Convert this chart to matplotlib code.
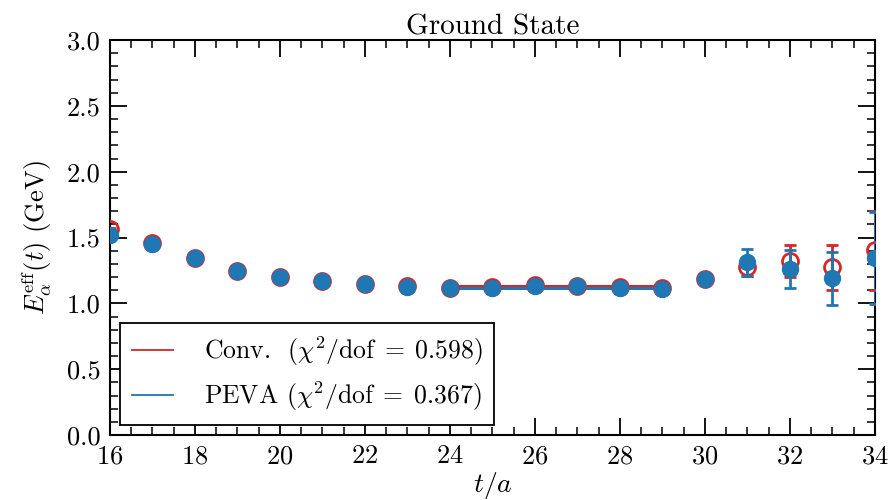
import numpy as np
import matplotlib
matplotlib.use("Agg")
import matplotlib.pyplot as plt
from matplotlib.ticker import MultipleLocator

plt.rcParams["font.family"] = "serif"
plt.rcParams["font.serif"] = ["cmr10", "DejaVu Serif"]
plt.rcParams["mathtext.fontset"] = "cm"
plt.rcParams["axes.formatter.use_mathtext"] = True
plt.rcParams["axes.unicode_minus"] = False

# effective energy data
t = [16, 17, 18, 19, 20, 21, 22, 23, 24, 25, 26, 27, 28, 29, 30, 31, 32, 33, 34]
conv_E = [1.565, 1.455, 1.345, 1.245, 1.20, 1.17, 1.15, 1.128, 1.118, 1.125, 1.14, 1.135, 1.125, 1.118,
          1.185, 1.275, 1.32, 1.275, 1.405]
conv_err = [0.01, 0.01, 0.01, 0.01, 0.01, 0.01, 0.01, 0.01, 0.01, 0.01, 0.012, 0.012, 0.012, 0.015,
            0.03, 0.07, 0.12, 0.17, 0.30]
peva_E = [1.52, 1.452, 1.342, 1.243, 1.197, 1.168, 1.148, 1.124, 1.113, 1.118, 1.132, 1.128, 1.117, 1.112,
          1.184, 1.311, 1.258, 1.19, 1.346]
peva_err = [0.01, 0.01, 0.01, 0.01, 0.01, 0.01, 0.01, 0.01, 0.01, 0.01, 0.012, 0.012, 0.012, 0.015,
            0.04, 0.10, 0.145, 0.20, 0.35]

# plateau fits
fit_range = [24, 29]
conv_fit = 1.133
peva_fit = 1.115
conv_label = r"Conv.  $(\chi^2/\mathrm{dof}\;=\;0.598)$"
peva_label = r"PEVA $(\chi^2/\mathrm{dof}\;=\;0.367)$"

red = "#d62728"
blue = "#1f77b4"

fig = plt.figure(figsize=(8.9, 5.0), dpi=100)
ax = fig.add_axes([0.1236, 0.13, 0.983 - 0.1236, 0.92 - 0.13])

ax.errorbar(t, conv_E, yerr=conv_err, fmt="o", color=red, mfc="none", mec=red,
            mew=2.0, ms=11.5, capsize=4, elinewidth=2, capthick=2, zorder=3)
ax.errorbar(t, peva_E, yerr=peva_err, fmt="o", color=blue, mfc=blue, mec=blue,
            ms=11.5, capsize=4, elinewidth=2, capthick=2, zorder=4)

ax.plot(fit_range, [conv_fit, conv_fit], color=red, lw=2.2, label=conv_label, zorder=2)
ax.plot(fit_range, [peva_fit, peva_fit], color=blue, lw=2.2, label=peva_label, zorder=2)

ax.set_xlim(16, 34)
ax.set_ylim(0, 3.0)
ax.xaxis.set_major_locator(MultipleLocator(2))
ax.xaxis.set_minor_locator(MultipleLocator(0.5))
ax.yaxis.set_major_locator(MultipleLocator(0.5))
ax.yaxis.set_minor_locator(MultipleLocator(0.1))
ax.yaxis.set_major_formatter(plt.FormatStrFormatter("%.1f"))

ax.tick_params(which="both", direction="in", top=True, right=True, labelsize=19, pad=7)
ax.tick_params(which="major", length=12, width=1.3)
ax.tick_params(which="minor", length=6, width=1.1)
for sp in ax.spines.values():
    sp.set_linewidth(1.5)

ax.set_xlabel(r"$t/a$", fontsize=20, labelpad=1)
ax.set_ylabel(r"$E^{\rm eff}_{\alpha}(t)$ (GeV)", fontsize=19, labelpad=9)
ax.set_title("Ground State", fontsize=21, pad=4)

leg = ax.legend(loc="lower left", fontsize=18.5, fancybox=False, edgecolor="black",
                framealpha=1, handlelength=1.6, handletextpad=1.2, borderpad=0.45,
                labelspacing=0.45, borderaxespad=0.4)
leg.get_frame().set_linewidth(1.3)
for h in leg.get_lines():
    h.set_linewidth(1.3)

fig.savefig("out.png", dpi=100)
